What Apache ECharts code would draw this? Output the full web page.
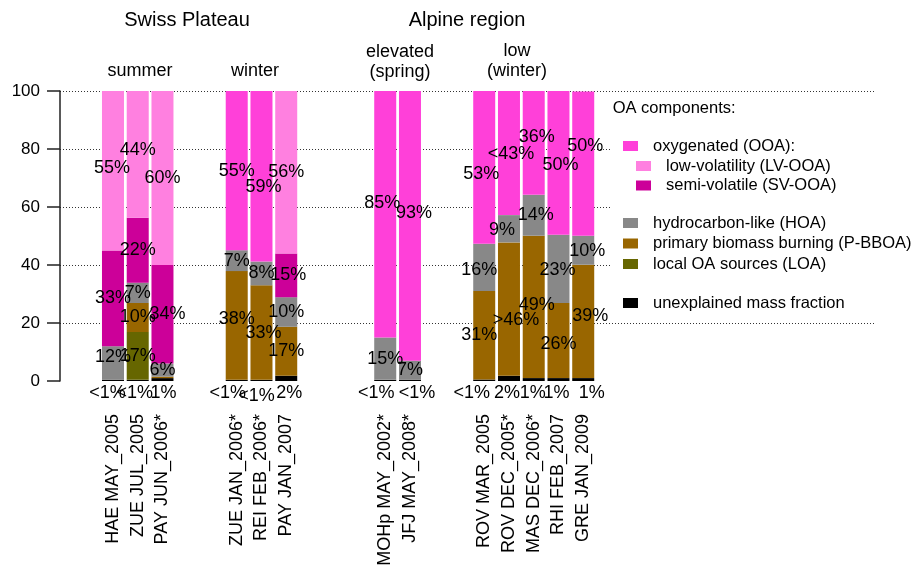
<!DOCTYPE html>
<html><head><meta charset="utf-8">
<script src="https://cdn.jsdelivr.net/npm/echarts@6/dist/echarts.min.js"></script>
<style>html,body{margin:0;padding:0;background:#fff}#c{width:916px;height:566px}</style>
</head><body><div id="c"></div>
<script>
// ---------------- data ----------------
const categories = ["HAE MAY_2005","ZUE JUL_2005","PAY JUN_2006*","","",
  "ZUE JAN_2006*","REI FEB_2006*","PAY JAN_2007","","","",
  "MOHp MAY_2002*","JFJ MAY_2008*","","",
  "ROV MAR_2005","ROV DEC_2005*","MAS DEC_2006*","RHI FEB_2007","GRE JAN_2009"];
// values per real bar (13 bars, in order)
const unexplained = [0.4, 0.4, 1.0, 0.4, 0.4, 1.8, 0.4, 0.4, 0.5, 1.8, 1.0, 1.0, 1.0];
const loa   = [null, 16.5, null, null, null, null, null, null, null, null, null, null, null];
const pbboa = [null, 10, 0.5, 37.5, 32.6, 16.9, null, null, 30.5, 46, 49.1, 25.9, 39.1];
const hoa   = [11.6, 7, 4.5, 7.2, 8.2, 10.2, 14.6, 6.6, 16.3, 9.4, 14.1, 23.5, 10];
const svooa = [33, 22.4, 34, null, null, 15.1, null, null, null, null, null, null, null];
const lvooa = [55, 43.9, 60, null, null, 56, null, null, null, null, null, null, null];
const ooa   = [null, null, null, 55.1, 58.9, null, 85.1, 93.1, 52.9, 42.8, 35.9, 49.7, 49.7];
// label texts
const unexplainedLabels = ["<1%","<1%","1%","<1%","<1%","2%","<1%","<1%","<1%","2%","1%","1%","1%"];
const loaLabels   = ["","17%","","","","","","","","","","",""];
const pbboaLabels = ["","10%","","38%","33%","17%","","","31%",">46%","49%","26%","39%"];
const hoaLabels   = ["12%","7%","6%","7%","8%","10%","15%","7%","16%","9%","14%","23%","10%"];
const svLabels    = ["33%","22%","34%","","","15%","","","","","","",""];
const lvLabels    = ["55%","44%","60%","","","56%","","","","","","",""];
const ooaLabels   = ["","","","55%","59%","","85%","93%","53%","<43%","36%","50%","50%"];
const yTicks = [0, 20, 40, 60, 80, 100];

// ---------------- styling ----------------
const FONT = "'Liberation Sans', Arial, sans-serif";
const colors = {
  unexplained: '#000000', loa: '#666600', pbboa: '#996600', hoa: '#888888',
  sv: '#cc0099', lv: '#ff80e0', ooa: '#ff40d9'
};
// label nudges [dx, dy] keyed "barIndex:series"
const nudge = {
  '0:lv':[-1,-3], '0:hoa':[0,-6], '1:lv':[0,-4], '2:sv':[5,0],
  '3:pbboa':[0,-6], '4:ooa':[2,11], '4:pbboa':[2,0], '5:sv':[2,0],
  '6:ooa':[-3,-11], '7:ooa':[4,-13],
  '8:ooa':[-3,7], '8:hoa':[-5,3], '8:pbboa':[-5,0],
  '9:hoa':[-7,1], '9:pbboa':[7,11], '9:ooa':[2,1],
  '10:ooa':[3,-6], '10:hoa':[2,0], '10:pbboa':[3,-2],
  '11:ooa':[2,2], '11:hoa':[-1,1], '11:pbboa':[0,3],
  '12:ooa':[2,-18], '12:hoa':[4,1], '12:pbboa':[7,-5],
  '0:un':[-5.5,0], '1:un':[-3,0], '2:un':[1,0], '3:un':[-9,0], '4:un':[-5,3], '5:un':[3,0],
  '6:un':[-9,0], '7:un':[7,0], '8:un':[-12.5,0], '9:un':[-2,0], '10:un':[-1,0], '11:un':[-2,0], '12:un':[8.5,0]
};

const barSlots = [];
categories.forEach((c, i) => { if (c !== '') barSlots.push(i); });

function buildData(values, labels, key) {
  const data = categories.map(() => null);
  barSlots.forEach((slot, k) => {
    if (values[k] == null) return;
    const txt = labels[k];
    data[slot] = {
      value: values[k],
      label: { show: !!txt, formatter: txt || '', offset: nudge[k + ':' + key] || [0, 0] }
    };
  });
  return data;
}

function barSeries(name, values, labels, key, color, pos) {
  return {
    name, type: 'bar', stack: 'oa', xAxisIndex: 1, yAxisIndex: 1,
    barWidth: 22, itemStyle: { color },
    label: { show: true, position: pos || 'inside', distance: pos ? 3 : 2, color: '#000',
             fontSize: 18, fontFamily: FONT },
    emphasis: { disabled: true },
    data: buildData(values, labels, key), animation: false
  };
}

const series = [
  barSeries('unexplained mass fraction', unexplained, unexplainedLabels, 'un', colors.unexplained, 'bottom'),
  barSeries('local OA sources (LOA)', loa, loaLabels, 'loa', colors.loa),
  barSeries('primary biomass burning (P-BBOA)', pbboa, pbboaLabels, 'pbboa', colors.pbboa),
  barSeries('hydrocarbon-like (HOA)', hoa, hoaLabels, 'hoa', colors.hoa),
  barSeries('semi-volatile (SV-OOA)', svooa, svLabels, 'sv', colors.sv),
  barSeries('low-volatility (LV-OOA)', lvooa, lvLabels, 'lv', colors.lv),
  barSeries('oxygenated (OOA)', ooa, ooaLabels, 'ooa', colors.ooa)
];

function legendItem(name, left, centerY, colon) {
  return {
    data: [name], left, top: centerY - 10, orient: 'horizontal', padding: 0,
    itemWidth: 15, itemHeight: 10, icon: 'rect', selectedMode: false,
    formatter: n => colon ? n + ':' : n,
    textStyle: { fontSize: 16.5, fontFamily: FONT, color: '#000', lineHeight: 20, padding: [0, 0, 0, 10] }
  };
}

const textStyle = (t, x, y, size) => ({
  type: 'text', x, y, z: 10,
  style: { text: t, fill: '#000', fontSize: size, fontFamily: FONT, textAlign: 'center', textVerticalAlign: 'middle' }
});

const option = {
  animation: false,
  backgroundColor: '#fff',
  grid: [
    { left: 60, right: 41, top: 91, bottom: 185, outerBoundsMode: 'none', containLabel: false },   // axis
    { left: 100.6, width: 495, top: 91, bottom: 185, outerBoundsMode: 'none', containLabel: false }, // bars
    { left: 60, right: 41, top: 91, bottom: 243, outerBoundsMode: 'none', containLabel: false }    // dotted gridlines 20..100
  ],
  xAxis: [
    { gridIndex: 0, type: 'value', min: 0, max: 1, show: false },
    { gridIndex: 1, type: 'category', data: categories,
      axisLine: { show: false }, axisTick: { show: false },
      axisLabel: { rotate: 90, interval: 0, margin: 33, fontSize: 18, fontFamily: FONT, color: '#000' } },
    { gridIndex: 2, type: 'value', min: 0, max: 1, show: false }
  ],
  yAxis: [
    { gridIndex: 0, type: 'value', min: yTicks[0], max: yTicks[yTicks.length - 1], interval: 20,
      axisLine: { show: true, lineStyle: { color: '#222', width: 1.5 } },
      axisTick: { show: true, length: 13, lineStyle: { color: '#222', width: 1.5 } },
      axisLabel: { margin: 20, fontSize: 17, fontFamily: FONT, color: '#000' },
      splitLine: { show: false } },
    { gridIndex: 1, type: 'value', min: 0, max: 100, show: false, splitLine: { show: false } },
    { gridIndex: 2, type: 'value', min: 20, max: 100, interval: 20,
      axisLine: { show: false }, axisTick: { show: false }, axisLabel: { show: false },
      splitLine: { show: true, lineStyle: { color: '#333', width: 1, type: [1, 2] } } }
  ],
  legend: [
    legendItem('oxygenated (OOA)', 623, 146, true),
    legendItem('low-volatility (LV-OOA)', 636, 166),
    legendItem('semi-volatile (SV-OOA)', 636, 185.5),
    legendItem('hydrocarbon-like (HOA)', 623, 223),
    legendItem('primary biomass burning (P-BBOA)', 623, 243.5),
    legendItem('local OA sources (LOA)', 623, 264),
    legendItem('unexplained mass fraction', 623, 303)
  ],
  graphic: [
    { type: 'rect', shape: { x: 612, y: 96, width: 270, height: 220 }, style: { fill: '#fff' }, z: 1 },
    { type: 'text', x: 612.7, y: 108, z: 10,
      style: { text: 'OA components:', fill: '#000', fontSize: 16.5, fontFamily: FONT, textAlign: 'left', textVerticalAlign: 'middle' } },
    textStyle('Swiss Plateau', 187, 20, 20),
    textStyle('Alpine region', 467, 20, 20),
    textStyle('summer', 140, 71, 18),
    textStyle('winter', 255, 71, 18),
    textStyle('elevated', 400, 52, 18),
    textStyle('(spring)', 400, 72, 18),
    textStyle('low', 517, 51, 18),
    textStyle('(winter)', 517, 71, 18)
  ],
  series
};

const chart = echarts.init(document.getElementById('c'), null, { renderer: 'canvas' });
chart.setOption(option);
</script>
</body></html>
